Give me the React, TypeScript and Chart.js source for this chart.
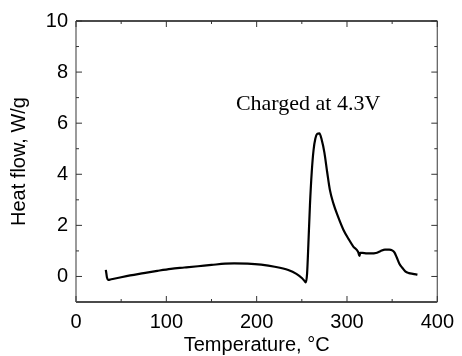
import React, { useEffect, useRef } from "react";
import { Chart, registerables } from "chart.js";

Chart.register(...registerables);

// Data (Temperature °C, Heat flow W/g)
const temperature = [
  33, 33.6, 34.3, 35.5, 38, 42, 50, 60, 75, 90, 105, 120, 135, 150, 165, 175, 190, 205, 220,
  235, 244, 250, 253, 254.5, 255.8, 257.3, 259, 261, 263, 265, 267, 269.5, 272, 275, 278,
  281, 285, 290, 296, 302, 307, 312.5, 313.8, 314.6, 317, 322, 327, 332, 337, 342, 346.8,
  350, 352.5, 355, 358, 361.4, 364.5, 368.6, 373, 378,
];
const heatFlow = [
  0.26, 0.12, -0.04, -0.13, -0.12, -0.09, -0.03, 0.04, 0.13, 0.22, 0.3, 0.35, 0.4, 0.45, 0.5,
  0.51, 0.5, 0.46, 0.38, 0.25, 0.1, -0.06, -0.18, -0.23, 0.1, 1.3, 2.8, 4.1, 4.95, 5.4, 5.58,
  5.6, 5.35, 4.85, 4.1, 3.4, 2.85, 2.35, 1.83, 1.45, 1.17, 0.95, 0.8, 0.92, 0.92, 0.9, 0.9,
  0.92, 0.99, 1.05, 1.05, 1.02, 0.94, 0.75, 0.5, 0.33, 0.2, 0.13, 0.1, 0.07,
];

const xMajorTicks = [0, 100, 200, 300, 400];
const xMinorTicks = [50, 150, 250, 350];
const yMajorTicks = [0, 2, 4, 6, 8, 10];
const yMinorTicks = [1, 3, 5, 7, 9];

const xTitle = "Temperature, °C";
const yTitle = "Heat flow, W/g";
const annotationText = "Charged at 4.3V";
const annotationAt = { x: 177, y: 6.53 };

const SANS = "'Liberation Sans', Arial, Helvetica, sans-serif";
const SERIF = "'Liberation Serif', 'Times New Roman', serif";

const framePlugin = {
  id: "frameTicks",
  afterDatasetsDraw(chart: any) {
    const { ctx, chartArea, scales } = chart;
    const { left, right, top, bottom } = chartArea;
    const xs = scales.x;
    const ys = scales.y;
    ctx.save();
    // frame
    ctx.lineWidth = 1.3;
    ctx.strokeStyle = "#111";
    ctx.beginPath();
    ctx.moveTo(left, top);
    ctx.lineTo(right, top);
    ctx.moveTo(left, bottom);
    ctx.lineTo(right, bottom);
    ctx.stroke();
    ctx.strokeStyle = "#666";
    ctx.beginPath();
    ctx.moveTo(left, top);
    ctx.lineTo(left, bottom);
    ctx.moveTo(right, top);
    ctx.lineTo(right, bottom);
    ctx.stroke();
    // ticks (inward)
    ctx.lineWidth = 1;
    ctx.strokeStyle = "#333";
    ctx.beginPath();
    const xt = (v: number, len: number) => {
      const p = xs.getPixelForValue(v);
      ctx.moveTo(p, bottom);
      ctx.lineTo(p, bottom - len);
      ctx.moveTo(p, top);
      ctx.lineTo(p, top + len);
    };
    const yt = (v: number, len: number) => {
      const p = ys.getPixelForValue(v);
      ctx.moveTo(left, p);
      ctx.lineTo(left + len, p);
      ctx.moveTo(right, p);
      ctx.lineTo(right - len, p);
    };
    xMajorTicks.forEach((v) => xt(v, 6));
    xMinorTicks.forEach((v) => xt(v, 3));
    yMajorTicks.forEach((v) => yt(v, 6));
    yMinorTicks.forEach((v) => yt(v, 3));
    ctx.stroke();
    // annotation
    ctx.fillStyle = "#000";
    ctx.font = `22px ${SERIF}`;
    ctx.textAlign = "left";
    ctx.textBaseline = "alphabetic";
    ctx.fillText(
      annotationText,
      xs.getPixelForValue(annotationAt.x),
      ys.getPixelForValue(annotationAt.y)
    );
    ctx.restore();
  },
};

export default function App() {
  const ref = useRef<HTMLCanvasElement | null>(null);
  useEffect(() => {
    if (!ref.current) return;
    const points = temperature.map((t, i) => ({ x: t, y: heatFlow[i] }));
    const chart = new Chart(ref.current, {
      type: "line",
      data: {
        datasets: [
          {
            data: points,
            borderColor: "#000",
            borderWidth: 2.2,
            pointRadius: 0,
            fill: false,
            cubicInterpolationMode: "monotone",
          },
        ],
      },
      options: {
        animation: false,
        responsive: false,
        events: [],
        layout: { padding: { top: 21, right: 20, left: 0, bottom: 0 } },
        plugins: { legend: { display: false }, tooltip: { enabled: false } },
        scales: {
          x: {
            type: "linear",
            min: 0,
            max: 400,
            grid: { display: false, drawTicks: false },
            border: { display: false },
            afterBuildTicks: (s: any) => {
              s.ticks = xMajorTicks.map((value) => ({ value }));
            },
            afterFit: (s: any) => {
              s.height = 54;
            },
            ticks: {
              color: "#000",
              padding: 8,
              maxRotation: 0,
              font: { size: 20, family: SANS },
            },
            title: {
              display: true,
              text: xTitle,
              color: "#000",
              font: { size: 20, family: SANS, lineHeight: 1.05 },
              padding: { top: 0, bottom: 0 },
            },
          },
          y: {
            type: "linear",
            min: -1,
            max: 10,
            grid: { display: false, drawTicks: false },
            border: { display: false },
            afterBuildTicks: (s: any) => {
              s.ticks = yMajorTicks.map((value) => ({ value }));
            },
            afterFit: (s: any) => {
              s.width = 76;
            },
            ticks: {
              color: "#000",
              padding: 8,
              font: { size: 20, family: SANS },
            },
            title: {
              display: true,
              text: yTitle,
              color: "#000",
              font: { size: 20, family: SANS },
              padding: { top: 7, bottom: 0 },
            },
          },
        },
      },
      plugins: [framePlugin],
    } as any);
    return () => chart.destroy();
  }, []);
  return (
    <div style={{ position: "absolute", left: 0, top: 0, width: 462, height: 356, background: "#fff" }}>
      <canvas ref={ref} width={462} height={356} style={{ display: "block" }} />
    </div>
  );
}
